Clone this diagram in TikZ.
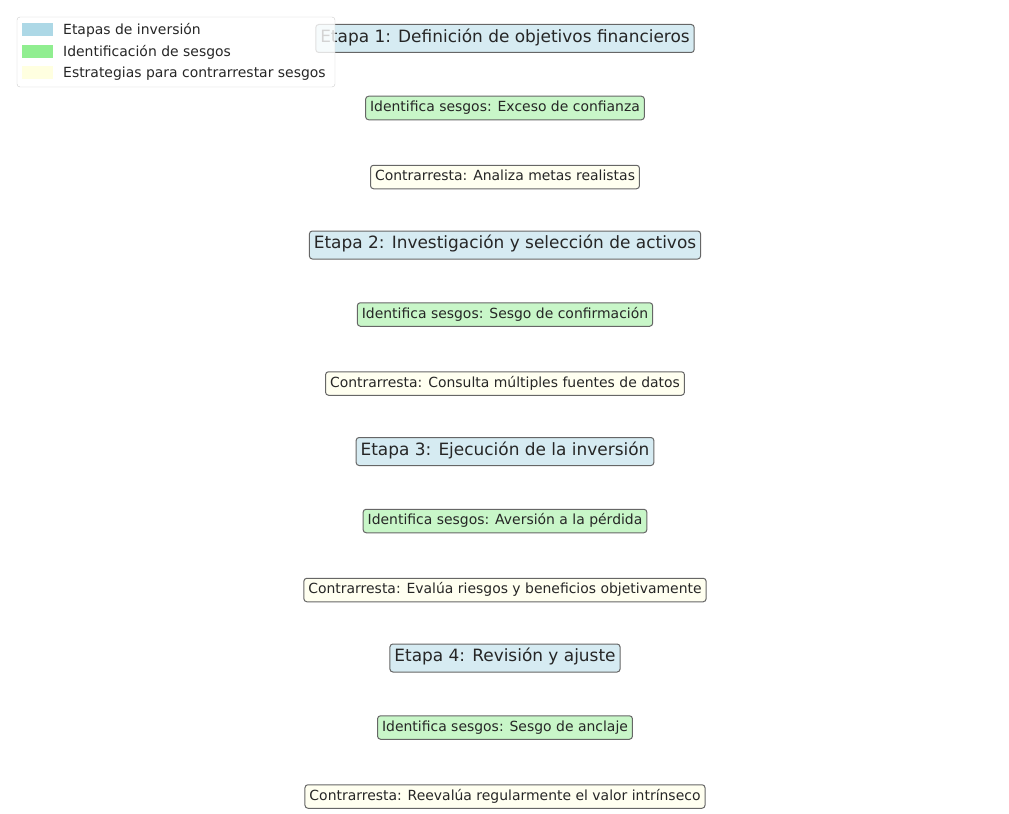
\documentclass[tikz,border=0pt]{standalone}
\usepackage{fontspec}
\setmainfont{DejaVu Sans}
\usetikzlibrary{positioning}
\definecolor{etapafill}{HTML}{D6EBF2}
\definecolor{sesgofill}{HTML}{C8F6C8}
\definecolor{contrafill}{HTML}{FFFFF0}
\definecolor{etapakey}{HTML}{ADD8E6}
\definecolor{sesgokey}{HTML}{90EE90}
\definecolor{contrakey}{HTML}{FFFFE0}
\tikzset{
  caja/.style={draw=black!60,line width=1bp,rounded corners=3bp,text=black!85,inner xsep=4.5bp,inner ysep=0pt,text height=0.86em,text depth=0.14em},
  etapa/.style={caja,fill=etapafill,minimum height=28bp,font=\fontsize{17}{20}\selectfont},
  sesgo/.style={caja,fill=sesgofill,minimum height=23.5bp,font=\fontsize{14}{17}\selectfont},
  contra/.style={caja,fill=contrafill,minimum height=23.5bp,font=\fontsize{14}{17}\selectfont},
  leyenda/.style={anchor=west,inner sep=0pt,text=black!85,font=\fontsize{14}{17}\selectfont}
}
\begin{document}
\begin{tikzpicture}[x=1bp,y=-1bp]
        \useasboundingbox (0,0) rectangle (1009,814);
        \foreach \i/\etapatxt/\sesgotxt/\contratxt in {
            1/{Etapa 1: Definición de objetivos financieros}/{Identifica sesgos: Exceso de confianza}/{Contrarresta: Analiza metas realistas},
            2/{Etapa 2: Investigación y selección de activos}/{Identifica sesgos: Sesgo de confirmación}/{Contrarresta: Consulta múltiples fuentes de datos},
            3/{Etapa 3: Ejecución de la inversión}/{Identifica sesgos: Aversión a la pérdida}/{Contrarresta: Evalúa riesgos y beneficios objetivamente},
            4/{Etapa 4: Revisión y ajuste}/{Identifica sesgos: Sesgo de anclaje}/{Contrarresta: Reevalúa regularmente el valor intrínseco}} {
            \node[etapa] (e\i) at (505,{38.5+206.5*(\i-1)}) {\etapatxt};
            \node[sesgo] (s\i) at (505,{108+206.5*(\i-1)}) {\sesgotxt};
            \node[contra] (c\i) at (505,{177+206.5*(\i-1)}) {\contratxt};
        }
        % leyenda
        \draw[draw=black!20,fill=white,fill opacity=0.8,rounded corners=3bp] (17,17) rectangle (335,87);
        \fill[etapakey] (22,23.5) rectangle (53,36);
        \fill[sesgokey] (22,45.5) rectangle (53,58);
        \fill[contrakey] (22,66.5) rectangle (53,79);
        \node[leyenda] (l1) at (63,30.5) {Etapas de inversión};
        \node[leyenda] (l2) at (63,52) {Identificación de sesgos};
        \node[leyenda] (l3) at (63,73.5) {Estrategias para contrarrestar sesgos};
    \end{tikzpicture}
\end{document}
